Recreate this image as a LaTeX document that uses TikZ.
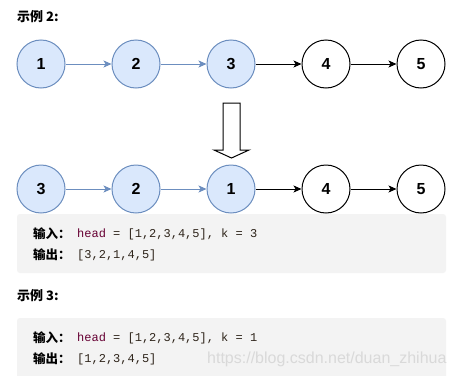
\documentclass[tikz,border=0pt]{standalone}
\usepackage{fontspec}
\setmainfont{Liberation Sans}
\setmonofont{Liberation Mono}
\newfontfamily\cjk{Noto Sans CJK SC}
\usetikzlibrary{arrows.meta}
\definecolor{bfill}{HTML}{DAE8FC}
\definecolor{bline}{HTML}{6C8EBF}
\definecolor{boxgray}{HTML}{F3F3F3}
\definecolor{kw}{HTML}{660033}
\definecolor{codetxt}{HTML}{2E241A}
\definecolor{wm}{HTML}{D9D9D9}
\tikzset{
  blue node/.style={circle, draw=bline, fill=bfill, line width=1pt, minimum size=48pt, inner sep=0pt, font=\fontsize{16}{16}\selectfont\bfseries},
  white node/.style={circle, draw=black, fill=white, line width=1pt, minimum size=48pt, inner sep=0pt, font=\fontsize{16}{16}\selectfont\bfseries},
  blue link/.style={draw=bline, line width=1pt, -{Stealth[length=8pt,width=7pt,inset=2pt]}},
  black link/.style={draw=black, line width=1pt, -{Stealth[length=8pt,width=7pt,inset=2pt]}},
  title text/.style={anchor=west, inner sep=0pt, font=\cjk\fontsize{13}{14}\selectfont\bfseries},
  label text/.style={anchor=west, inner sep=0pt, font=\cjk\fontsize{12.5}{14}\selectfont\bfseries},
  code text/.style={anchor=west, inner sep=0pt, text=codetxt, font=\ttfamily\fontsize{12}{14}\selectfont},
  code box/.style={fill=boxgray, rounded corners=3pt, draw=none}
}
\begin{document}
\begin{tikzpicture}[x=1pt, y=-1pt]
\useasboundingbox[fill=white] (0,0) rectangle (455,375);
% title
\node[title text] (t2) at (17,17) {示例 2:};
% row 1
\node[blue node] (a1) at (41,64) {1};
\node[blue node] (a2) at (136,64) {2};
\node[blue node] (a3) at (231,64) {3};
\node[white node] (a4) at (326,64) {4};
\node[white node] (a5) at (421,64) {5};
\draw[blue link] (a1) -- (a2);
\draw[blue link] (a2) -- (a3);
\draw[black link] (a3) -- (a4);
\draw[black link] (a4) -- (a5);
% hollow arrow
\draw[line width=1pt, fill=white, line join=miter]
  (223,103) -- (240,103) -- (240,150) -- (249,150) -- (231.5,158) -- (214,150) -- (223,150) -- cycle;
% row 2
\node[blue node] (b1) at (41,189) {3};
\node[blue node] (b2) at (136,189) {2};
\node[blue node] (b3) at (231,189) {1};
\node[white node] (b4) at (326,189) {4};
\node[white node] (b5) at (421,189) {5};
\draw[blue link] (b1) -- (b2);
\draw[blue link] (b2) -- (b3);
\draw[black link] (b3) -- (b4);
\draw[black link] (b4) -- (b5);
% box 1
\path[code box] (17,214) rectangle (446,273);
\node[label text] (in2) at (33,234) {输入：};
\node[code text] (c2a) at (77,234) {\textcolor{kw}{head} = [1,2,3,4,5], k = 3};
\node[label text] (out2) at (33,255) {输出：};
\node[code text] (c2b) at (77,255) {[3,2,1,4,5]};
% example 3
\node[title text] (t3) at (17,296) {示例 3:};
\path[code box] (17,318) rectangle (446,380);
\node[label text] (in3) at (33,338) {输入：};
\node[code text] (c3a) at (77,338) {\textcolor{kw}{head} = [1,2,3,4,5], k = 1};
\node[label text] (out3) at (33,359) {输出：};
\node[code text] (c3b) at (77,359) {[1,2,3,4,5]};
\node[anchor=west, inner sep=0pt, text=wm, font=\fontsize{16}{16}\selectfont] (wm) at (207,359) {https://blog.csdn.net/duan\_zhihua};
\end{tikzpicture}
\end{document}
